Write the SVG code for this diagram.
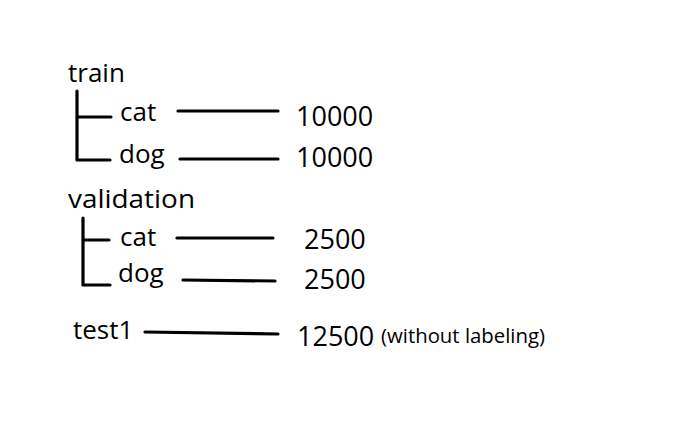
<svg xmlns="http://www.w3.org/2000/svg" width="696" height="425" viewBox="0 0 696 425">
<style>
text{font-family:"Open Sans","Noto Sans",sans-serif;fill:#000}
.h{font-size:26px}
.n{font-size:27px}
.s{font-size:20px}
.ln{stroke:#000;stroke-width:3.2;fill:none;stroke-linecap:round;stroke-linejoin:round}
</style>
<rect width="696" height="425" fill="#fff"/>
<g id="train"><text class="h" x="68" y="82">train</text></g>
<g id="train-cat"><text class="h" x="120" y="121">cat</text></g>
<g id="train-dog"><text class="h" x="119" y="163">dog</text></g>
<g id="train-cat-count"><text class="n" x="296" y="126">10000</text></g>
<g id="train-dog-count"><text class="n" x="296" y="167">10000</text></g>
<g id="validation"><text class="h" x="68" y="208" textLength="127" lengthAdjust="spacingAndGlyphs">validation</text></g>
<g id="val-cat"><text class="h" x="120" y="246">cat</text></g>
<g id="val-dog"><text class="h" x="118" y="282">dog</text></g>
<g id="val-cat-count"><text class="n" x="304" y="249">2500</text></g>
<g id="val-dog-count"><text class="n" x="304" y="289">2500</text></g>
<g id="test1"><text class="h" x="73" y="339">test1</text></g>
<g id="test1-count"><text class="n" x="297" y="346">12500</text><text class="s" x="381" y="343" textLength="164" lengthAdjust="spacingAndGlyphs">(without labeling)</text></g>
<g id="connectors">
<path class="ln" d="M77,91 V160 H110 M77,117 H111"/>
<path class="ln" d="M178,111 H278"/>
<path class="ln" d="M180,159 H278"/>
<path class="ln" d="M83,218 V285 H110 M83,240 H109"/>
<path class="ln" d="M177,238 H273"/>
<path class="ln" d="M183,280 L275,281"/>
<path class="ln" d="M145,332 L278,334"/>
</g>
</svg>
